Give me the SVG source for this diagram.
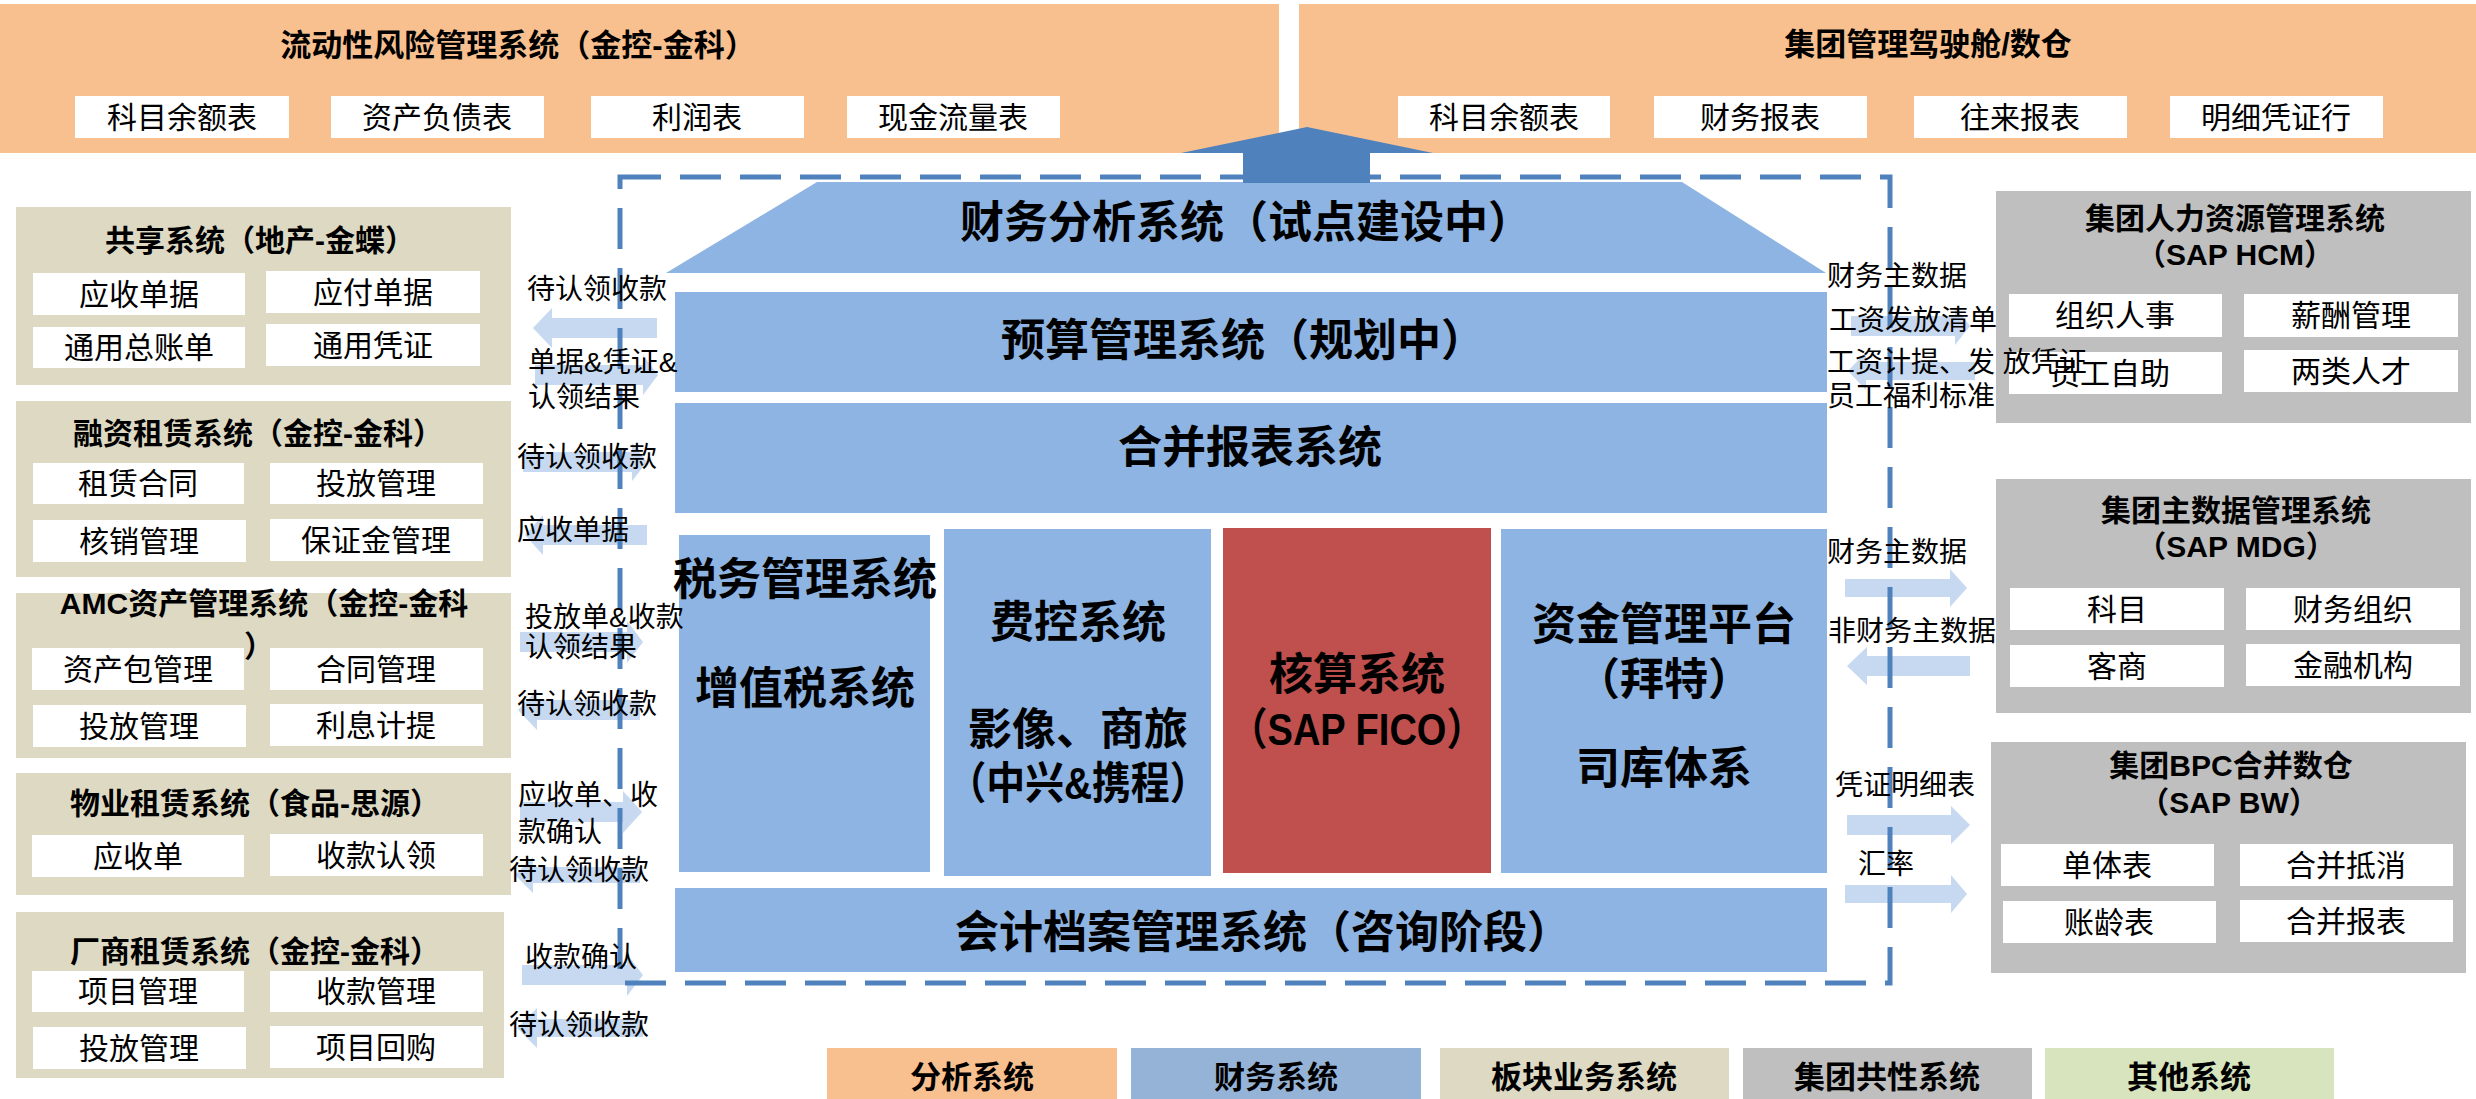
<svg xmlns="http://www.w3.org/2000/svg" width="2476" height="1099" viewBox="0 0 2476 1099">
<style>
text{font-family:'Liberation Sans','Noto Sans CJK SC',sans-serif;fill:#000;dominant-baseline:central}
.c{text-anchor:middle}
.b{font-weight:bold}
.f30{font-size:30px}
.f31{font-size:31px}
.f28{font-size:28px}
.f44{font-size:44px;font-weight:bold}
.org{fill:#F9C08F}
.blu{fill:#8DB4E2}
.bei{fill:#DDD9C3}
.gry{fill:#BFBFBF}
.wht{fill:#FFFFFF}
.arw{fill:#C6D9F1}
</style>
<rect width="2476" height="1099" fill="#FFFFFF"/>

<!-- top orange boxes -->
<g id="liquidity">
<rect class="org" x="0" y="4" width="1279" height="149"/>
<text class="c b f31" x="518" y="45">流动性风险管理系统（金控-金科）</text>
<rect class="wht" x="75" y="96" width="214" height="42"/><text class="c f30" x="182" y="117">科目余额表</text>
<rect class="wht" x="331" y="96" width="213" height="42"/><text class="c f30" x="437" y="117">资产负债表</text>
<rect class="wht" x="591" y="96" width="213" height="42"/><text class="c f30" x="697" y="117">利润表</text>
<rect class="wht" x="847" y="96" width="213" height="42"/><text class="c f30" x="953" y="117">现金流量表</text>
</g>
<g id="cockpit">
<rect class="org" x="1299" y="4" width="1177" height="149"/>
<text class="c b f31" x="1928" y="44">集团管理驾驶舱/数仓</text>
<rect class="wht" x="1398" y="96" width="212" height="42"/><text class="c f30" x="1504" y="117">科目余额表</text>
<rect class="wht" x="1654" y="96" width="213" height="42"/><text class="c f30" x="1760" y="117">财务报表</text>
<rect class="wht" x="1914" y="96" width="213" height="42"/><text class="c f30" x="2020" y="117">往来报表</text>
<rect class="wht" x="2170" y="96" width="213" height="42"/><text class="c f30" x="2276" y="117">明细凭证行</text>
</g>

<!-- central finance systems -->
<g id="analysis">
<polygon class="blu" points="817,182 1682,182 1826,273 666,273"/>
<text class="c f44" x="1246" y="222">财务分析系统（试点建设中）</text>
</g>
<g id="budget">
<rect class="blu" x="675" y="292" width="1152" height="100"/>
<text class="c f44" x="1243" y="340">预算管理系统（规划中）</text>
</g>
<g id="consolidation">
<rect class="blu" x="675" y="403" width="1152" height="110"/>
<text class="c f44" x="1250" y="447">合并报表系统</text>
</g>
<g id="tax">
<rect class="blu" x="679" y="535" width="251" height="337"/>
<text class="c f44" x="805" y="579">税务管理系统</text>
<text class="c f44" x="805" y="688">增值税系统</text>
</g>
<g id="expense">
<rect class="blu" x="944" y="529" width="267" height="347"/>
<text class="c f44" x="1078" y="622">费控系统</text>
<text class="c f44" x="1078" y="729">影像、商旅</text>
<text class="c f44" x="1078" y="783" textLength="261" lengthAdjust="spacingAndGlyphs">（中兴&amp;携程）</text>
</g>
<g id="accounting">
<rect fill="#C0504D" x="1223" y="528" width="268" height="345"/>
<text class="c f44" x="1357" y="674">核算系统</text>
<text class="c f44" x="1357" y="729" textLength="255" lengthAdjust="spacingAndGlyphs">（SAP FICO）</text>
</g>
<g id="treasury">
<rect class="blu" x="1501" y="529" width="326" height="344"/>
<text class="c f44" x="1664" y="624">资金管理平台</text>
<text class="c f44" x="1664" y="679">（拜特）</text>
<text class="c f44" x="1664" y="768">司库体系</text>
</g>
<g id="archive">
<rect class="blu" x="675" y="888" width="1152" height="84"/>
<text class="c f44" x="1263" y="932">会计档案管理系统（咨询阶段）</text>
</g>

<!-- left business systems -->
<g id="shared">
<rect class="bei" x="16" y="207" width="495" height="178"/>
<text class="c b f30" x="260" y="240">共享系统（地产-金蝶）</text>
<rect class="wht" x="33" y="273" width="212" height="42"/><text class="c f30" x="139" y="294">应收单据</text>
<rect class="wht" x="266" y="271" width="214" height="42"/><text class="c f30" x="373" y="292">应付单据</text>
<rect class="wht" x="33" y="327" width="212" height="41"/><text class="c f30" x="139" y="347">通用总账单</text>
<rect class="wht" x="266" y="324" width="214" height="42"/><text class="c f30" x="373" y="345">通用凭证</text>
</g>
<g id="finlease">
<rect class="bei" x="16" y="401" width="495" height="176"/>
<text class="c b f30" x="258" y="433">融资租赁系统（金控-金科）</text>
<rect class="wht" x="33" y="463" width="211" height="41"/><text class="c f30" x="138" y="483">租赁合同</text>
<rect class="wht" x="270" y="463" width="213" height="41"/><text class="c f30" x="376" y="483">投放管理</text>
<rect class="wht" x="33" y="520" width="213" height="42"/><text class="c f30" x="139" y="541">核销管理</text>
<rect class="wht" x="270" y="519" width="213" height="42"/><text class="c f30" x="376" y="540">保证金管理</text>
</g>
<g id="amc">
<rect class="bei" x="16" y="593" width="495" height="165"/>
<text class="c b f30" x="264" y="603">AMC资产管理系统（金控-金科</text>
<text class="c b f30" x="259" y="646">）</text>
<rect class="wht" x="32" y="648" width="212" height="42"/><text class="c f30" x="138" y="669">资产包管理</text>
<rect class="wht" x="270" y="648" width="213" height="42"/><text class="c f30" x="376" y="669">合同管理</text>
<rect class="wht" x="33" y="705" width="213" height="42"/><text class="c f30" x="139" y="726">投放管理</text>
<rect class="wht" x="270" y="704" width="213" height="42"/><text class="c f30" x="376" y="725">利息计提</text>
</g>
<g id="property">
<rect class="bei" x="16" y="773" width="495" height="122"/>
<text class="c b f30" x="255" y="803">物业租赁系统（食品-思源）</text>
<rect class="wht" x="32" y="835" width="212" height="42"/><text class="c f30" x="138" y="856">应收单</text>
<rect class="wht" x="270" y="834" width="213" height="42"/><text class="c f30" x="376" y="855">收款认领</text>
</g>
<g id="vendorlease">
<rect class="bei" x="16" y="912" width="488" height="166"/>
<text class="c b f30" x="255" y="951">厂商租赁系统（金控-金科）</text>
<rect class="wht" x="32" y="971" width="212" height="41"/><text class="c f30" x="138" y="991">项目管理</text>
<rect class="wht" x="270" y="971" width="213" height="41"/><text class="c f30" x="376" y="991">收款管理</text>
<rect class="wht" x="33" y="1027" width="213" height="42"/><text class="c f30" x="139" y="1048">投放管理</text>
<rect class="wht" x="270" y="1026" width="213" height="42"/><text class="c f30" x="376" y="1047">项目回购</text>
</g>

<!-- right group systems -->
<g id="hcm">
<rect class="gry" x="1996" y="191" width="475" height="232"/>
<text class="c b f30" x="2235" y="218">集团人力资源管理系统</text>
<text class="c b f30" x="2235" y="254">（SAP HCM）</text>
<rect class="wht" x="2009" y="294" width="213" height="43"/><text class="c f30" x="2115" y="315">组织人事</text>
<rect class="wht" x="2244" y="294" width="214" height="43"/><text class="c f30" x="2351" y="315">薪酬管理</text>
<rect class="wht" x="2009" y="352" width="213" height="42"/><text class="c f30" x="2110" y="373">员工自助</text>
<rect class="wht" x="2244" y="350" width="214" height="42"/><text class="c f30" x="2351" y="371">两类人才</text>
</g>
<g id="mdg">
<rect class="gry" x="1996" y="479" width="475" height="234"/>
<text class="c b f30" x="2236" y="510">集团主数据管理系统</text>
<text class="c b f30" x="2236" y="546">（SAP MDG）</text>
<rect class="wht" x="2010" y="588" width="214" height="42"/><text class="c f30" x="2117" y="609">科目</text>
<rect class="wht" x="2246" y="588" width="214" height="42"/><text class="c f30" x="2353" y="609">财务组织</text>
<rect class="wht" x="2010" y="645" width="214" height="42"/><text class="c f30" x="2117" y="666">客商</text>
<rect class="wht" x="2246" y="644" width="214" height="42"/><text class="c f30" x="2353" y="665">金融机构</text>
</g>
<g id="bpc">
<rect class="gry" x="1991" y="742" width="475" height="231"/>
<text class="c b f30" x="2231" y="765">集团BPC合并数仓</text>
<text class="c b f30" x="2229" y="802">（SAP BW）</text>
<rect class="wht" x="2001" y="844" width="213" height="42"/><text class="c f30" x="2107" y="865">单体表</text>
<rect class="wht" x="2240" y="844" width="213" height="42"/><text class="c f30" x="2346" y="865">合并抵消</text>
<rect class="wht" x="2003" y="901" width="213" height="42"/><text class="c f30" x="2109" y="922">账龄表</text>
<rect class="wht" x="2240" y="900" width="213" height="42"/><text class="c f30" x="2346" y="921">合并报表</text>
</g>

<!-- connectors -->
<g id="connectors">
<g class="arw">
<polygon points="533,328 552,308 552,318 657,318 657,338 552,338 552,348"/>
<polygon points="658,375 643,355 643,365 535,365 535,385 643,385 643,395"/>
<polygon points="647,462 632,443 632,452 523,452 523,472 632,472 632,481"/>
<polygon points="525,535 543,515 543,525 647,525 647,545 543,545 543,555"/>
<polygon points="643,642 627,621 627,632 520,632 520,652 627,652 627,663"/>
<polygon points="518,710 537,690 537,700 640,700 640,720 537,720 537,730"/>
<polygon points="642,812 623,791 623,802 520,802 520,822 623,822 623,833"/>
<polygon points="515,875 533,857 533,867 640,867 640,883 533,883 533,893"/>
<polygon points="643,975 627,954 627,965 522,965 522,985 627,985 627,996"/>
<polygon points="517,1028 537,1008 537,1019 643,1019 643,1037 537,1037 537,1048"/>
<polygon points="1970,326 1955,307 1955,316 1851,316 1851,336 1955,336 1955,345"/>
<polygon points="1848,371 1866,352 1866,362 1975,362 1975,380 1866,380 1866,390"/>
<polygon points="1967,588 1950,569 1950,579 1845,579 1845,597 1950,597 1950,607"/>
<polygon points="1847,666 1867,647 1867,656 1970,656 1970,676 1867,676 1867,685"/>
<polygon points="1970,825 1951,806 1951,815 1847,815 1847,835 1951,835 1951,844"/>
<polygon points="1967,894 1951,875 1951,885 1845,885 1845,903 1951,903 1951,913"/>
</g>
<rect x="620" y="177" width="1270" height="806" fill="none" stroke="#4F81BD" stroke-width="5" stroke-dasharray="41 19"/>
<polygon points="1243,183 1243,153 1181,153 1307,127 1433,153 1370,153 1370,183" fill="#4F81BD"/>
<text class="f28" x="527" y="289">待认领收款</text>
<text class="f28" x="528" y="362">单据&amp;凭证&amp;</text>
<text class="f28" x="528" y="397">认领结果</text>
<text class="f28" x="517" y="457">待认领收款</text>
<text class="f28" x="517" y="530">应收单据</text>
<text class="f28" x="525" y="617">投放单&amp;收款</text>
<text class="f28" x="525" y="647">认领结果</text>
<text class="f28" x="517" y="704">待认领收款</text>
<text class="f28" x="518" y="795">应收单、收</text>
<text class="f28" x="518" y="832">款确认</text>
<text class="f28" x="509" y="870">待认领收款</text>
<text class="f28" x="525" y="957">收款确认</text>
<text class="f28" x="509" y="1025">待认领收款</text>
<text class="f28" x="1827" y="276">财务主数据</text>
<text class="f28" x="1829" y="320">工资发放清单</text>
<text class="f28" x="1827" y="362">工资计提、发 放凭证</text>
<text class="f28" x="1827" y="396">员工福利标准</text>
<text class="f28" x="1827" y="552">财务主数据</text>
<text class="f28" x="1828" y="631">非财务主数据</text>
<text class="f28" x="1835" y="785">凭证明细表</text>
<text class="f28" x="1858" y="864">汇率</text>
</g>

<!-- legend -->
<g id="legend">
<rect class="org" x="827" y="1048" width="290" height="51"/><text class="c b f31" x="972" y="1077">分析系统</text>
<rect fill="#95B3D7" x="1131" y="1048" width="290" height="51"/><text class="c b f31" x="1276" y="1077">财务系统</text>
<rect class="bei" x="1440" y="1048" width="289" height="51"/><text class="c b f31" x="1584" y="1077">板块业务系统</text>
<rect class="gry" x="1743" y="1048" width="289" height="51"/><text class="c b f31" x="1887" y="1077">集团共性系统</text>
<rect fill="#D7E4BD" x="2045" y="1048" width="289" height="51"/><text class="c b f31" x="2189" y="1077">其他系统</text>
</g>
</svg>
